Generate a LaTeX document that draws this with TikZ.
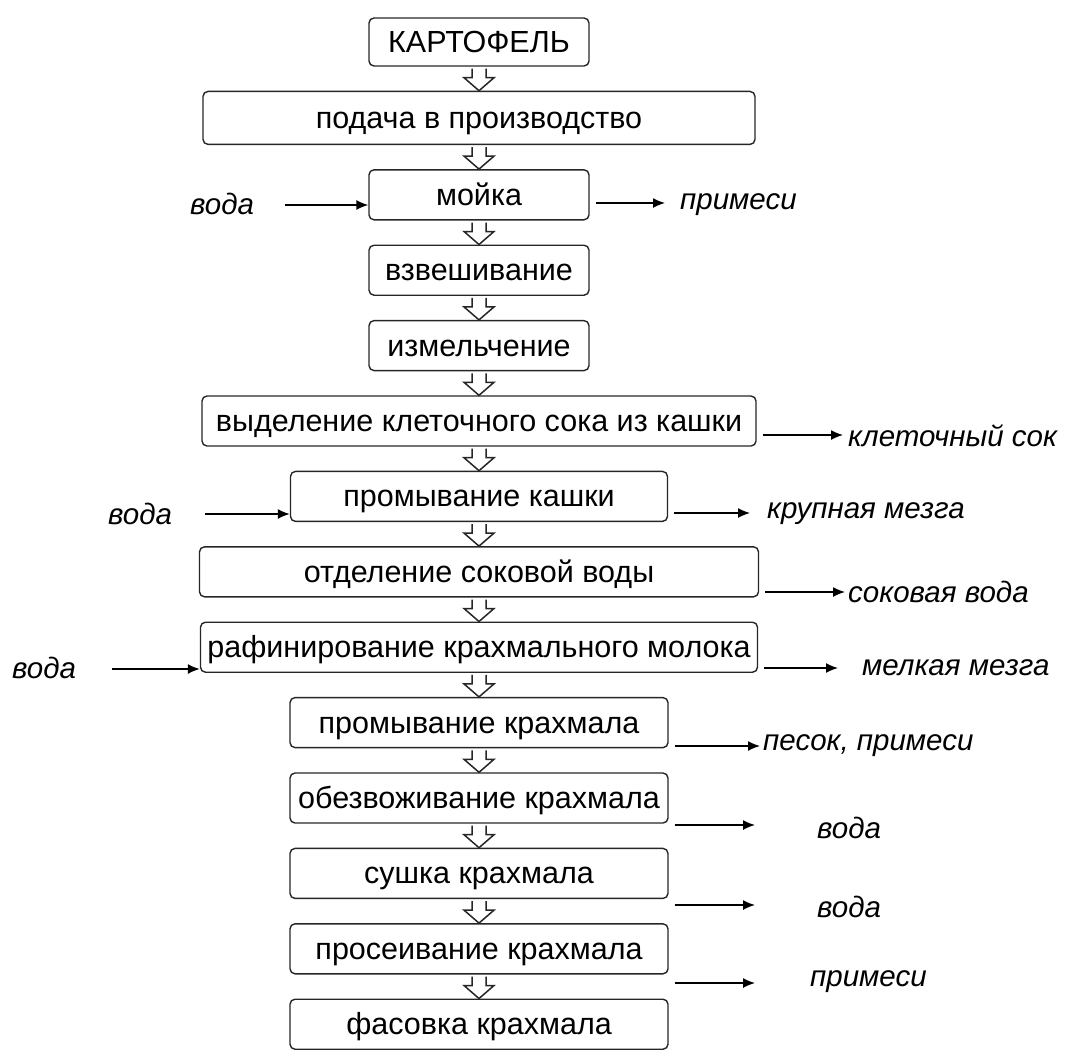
\documentclass[tikz,border=0pt]{standalone}
\usepackage{fontspec}
\setmainfont{Liberation Sans}
\usetikzlibrary{arrows.meta,positioning,calc}
% hollow block arrow from one stage down to the next
\newcommand{\flowdown}[2]{%
  \draw[hollow] ($(#1.south)+(-7,-2)$) -- ($(#1.south |- #2.north)+(-7,13)$) -- ++(-8,0)
    -- (#1.south |- #2.north) -- ++(15,13) -- ++(-8,0) -- ($(#1.south)+(7,-2)$);}

\begin{document}
\begin{tikzpicture}[x=1pt,y=1pt,
  stage/.style={rectangle,rounded corners=5pt,draw=black!85,line width=1.4pt,minimum height=50pt,
                align=center,inner sep=2pt,text height=27pt,text depth=6pt,
                font=\fontsize{30.5}{34}\selectfont},
  lab/.style={anchor=west,inner sep=0pt,font=\fontsize{29.5}{33}\selectfont\itshape},
  arr/.style={-{Latex[length=12pt,width=10pt]},line width=1.4pt},
  outarr/.style={arr,shorten <=6pt},
  hollow/.style={draw=black!85,line width=1.5pt,fill=white,line join=miter},
  node distance=24pt]
  \useasboundingbox (0,0) rectangle (1067,-1050);
  \clip (0,0) rectangle (1067,-1050);
  % process chain
  \node[stage,minimum width=220pt,minimum height=48pt] (b1) at (479,-42) {КАРТОФЕЛЬ};
  \node[stage,minimum width=552pt,minimum height=53pt,below=of b1] (b2) {подача в производство};
  \node[stage,minimum width=220pt,below=of b2] (b3) {мойка};
  \node[stage,minimum width=220pt,below=of b3] (b4) {взвешивание};
  \node[stage,minimum width=220pt,below=of b4] (b5) {измельчение};
  \node[stage,minimum width=554pt,below=of b5] (b6) {выделение клеточного сока из кашки};
  \node[stage,minimum width=377pt,below=of b6] (b7) {промывание кашки};
  \node[stage,minimum width=559pt,below=of b7] (b8) {отделение соковой воды};
  \node[stage,minimum width=557pt,below=of b8] (b9) {рафинирование крахмального молока};
  \node[stage,minimum width=378pt,below=of b9] (b10) {промывание крахмала};
  \node[stage,minimum width=378pt,below=of b10] (b11) {обезвоживание крахмала};
  \node[stage,minimum width=378pt,below=of b11] (b12) {сушка крахмала};
  \node[stage,minimum width=378pt,below=of b12] (b13) {просеивание крахмала};
  \node[stage,minimum width=378pt,below=of b13] (b14) {фасовка крахмала};
  \foreach \i [count=\j from 2] in {1,...,13} {\flowdown{b\i}{b\j}}
  % water inputs
  \coordinate (i1) at (285,-205);
  \coordinate (i2) at (205,-514);
  \coordinate (i3) at (112,-669);
  \node[lab] (w1) at (190,-204) {вода};
  \node[lab] (w2) at (108,-514) {вода};
  \node[lab] (w3) at (12,-668) {вода};
  \draw[arr] (i1) -- (b3.west |- i1);
  \draw[arr] (i2) -- (b7.west |- i2);
  \draw[arr] (i3) -- (b9.west |- i3);
  % outputs
  \coordinate (o1) at (665,-203);
  \coordinate (o2) at (843,-435);
  \coordinate (o3) at (750,-513);
  \coordinate (o4) at (845,-592);
  \coordinate (o5) at (838,-668);
  \coordinate (o6) at (760,-746);
  \coordinate (o7) at (755,-825);
  \coordinate (o8) at (755,-905);
  \coordinate (o9) at (755,-983);
  \node[lab] (r1) at (680,-205) {примеси};
  \node[lab] (r2) at (848,-436) {клеточный сок};
  \node[lab] (r3) at (767,-514) {крупная мезга};
  \node[lab] (r4) at (848,-592) {соковая вода};
  \node[lab] (r5) at (862,-668) {мелкая мезга};
  \node[lab] (r6) at (763,-746) {песок, примеси};
  \node[lab] (r7) at (817,-828) {вода};
  \node[lab] (r8) at (817,-907) {вода};
  \node[lab] (r9) at (810,-982) {примеси};
  \draw[outarr] (b3.east |- o1) -- (o1);
  \draw[outarr] (b6.east |- o2) -- (o2);
  \draw[outarr] (b7.east |- o3) -- (o3);
  \draw[outarr] (b8.east |- o4) -- (o4);
  \draw[outarr] (b9.east |- o5) -- (o5);
  \draw[outarr] (b10.east |- o6) -- (o6);
  \draw[outarr] (b11.east |- o7) -- (o7);
  \draw[outarr] (b12.east |- o8) -- (o8);
  \draw[outarr] (b13.east |- o9) -- (o9);
\end{tikzpicture}
\end{document}
